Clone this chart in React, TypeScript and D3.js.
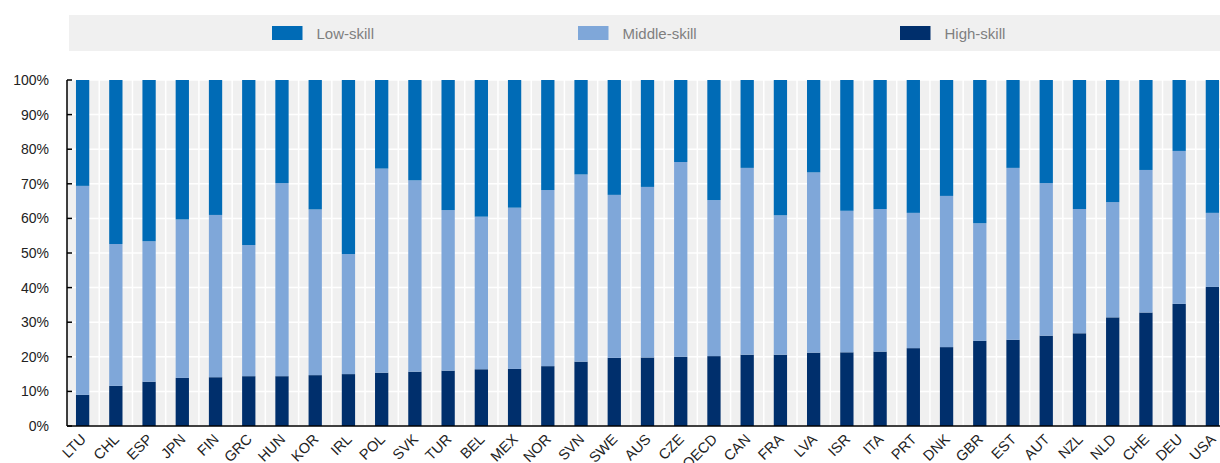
import React from "react";
import * as d3 from "d3";

const countries = ["LTU","CHL","ESP","JPN","FIN","GRC","HUN","KOR","IRL","POL","SVK","TUR","BEL","MEX","NOR","SVN","SWE","AUS","CZE","OECD","CAN","FRA","LVA","ISR","ITA","PRT","DNK","GBR","EST","AUT","NZL","NLD","CHE","DEU","USA"];
const highSkill = [9.0,11.6,12.8,13.9,14.1,14.4,14.4,14.7,15.0,15.4,15.7,16.0,16.4,16.5,17.3,18.6,19.7,19.8,20.0,20.2,20.6,20.6,21.2,21.3,21.5,22.5,22.8,24.6,24.9,26.1,26.8,31.4,32.8,35.3,40.2];
const highPlusMiddle = [69.4,52.6,53.4,59.7,61.0,52.3,70.2,62.6,49.7,74.4,71.0,62.4,60.5,63.1,68.2,72.7,66.8,69.1,76.3,65.3,74.6,60.9,73.3,62.2,62.7,61.6,66.5,58.6,74.6,70.2,62.7,64.7,74.0,79.5,61.6];
const middleSkill = highPlusMiddle.map((v, i) => +(v - highSkill[i]).toFixed(1));
const lowSkill = highPlusMiddle.map((v) => +(100 - v).toFixed(1));
const seriesNames = ["Low-skill", "Middle-skill", "High-skill"];
const seriesColors = ["#006bb6", "#7fa7d9", "#002f6c"];
const yTicks = [0,10,20,30,40,50,60,70,80,90,100];

const W = 1220, H = 463;
const PL = 67, PT = 80, PB = 426, PR = 1228;
const legendX = [272, 578, 900];

export default function App() {
  const rows = countries.map((c, i) => ({ country: c, high: highSkill[i], middle: middleSkill[i], low: lowSkill[i] }));
  const stack = d3.stack<any>().keys(["high", "middle", "low"])(rows);
  const colorByKey: Record<string, string> = { high: seriesColors[2], middle: seriesColors[1], low: seriesColors[0] };
  const x = d3.scaleBand().domain(countries).range([PL, PR]).paddingInner(0.6).paddingOuter(0.27);
  const y = d3.scaleLinear().domain([0, 100]).range([PB, PT]);
  const bw = x.bandwidth();
  const step = x.step();
  const font = "Arial, 'Liberation Sans', sans-serif";

  return (
    <div style={{ position: "absolute", left: 0, top: 0 }}>
      <svg width={W} height={H} style={{ display: "block" }}>
        <rect x={0} y={0} width={W} height={H} fill="#ffffff" />
        {/* legend */}
        <rect x={69} y={15} width={W - 69} height={36} fill="#f0f0f0" />
        {seriesNames.map((n, i) => (
          <g key={n}>
            <rect x={legendX[i]} y={26} width={30.5} height={14} fill={seriesColors[i]} />
            <text x={legendX[i] + 44.5} y={38.5} fontFamily={font} fontSize={15} fill="#7f7f7f">{n}</text>
          </g>
        ))}
        {/* plot bg */}
        <rect x={PL} y={PT} width={W - PL} height={PB - PT} fill="#f0f0f0" />
        {yTicks.map((t) => (
          <line key={"h" + t} x1={PL} x2={W} y1={y(t)} y2={y(t)} stroke="#ffffff" strokeWidth={1.5} />
        ))}
        {countries.map((c) => {
          const gx = (x(c) as number) + bw / 2 + step / 2;
          return <line key={"v" + c} x1={gx} x2={gx} y1={PT} y2={PB} stroke="#ffffff" strokeWidth={1.5} />;
        })}
        {/* bars */}
        {stack.map((s) => (
          <g key={s.key} fill={colorByKey[s.key]}>
            {s.map((d: any) => (
              <rect key={d.data.country} x={x(d.data.country)} y={y(d[1])} width={bw} height={y(d[0]) - y(d[1])} />
            ))}
          </g>
        ))}
        {/* axes */}
        <line x1={PL} x2={W} y1={PB} y2={PB} stroke="#000" strokeWidth={1.5} />
        <line x1={PL} x2={PL} y1={PT} y2={PB} stroke="#000" strokeWidth={1.5} />
        {yTicks.map((t) => (
          <g key={"t" + t}>
            <line x1={PL} x2={PL + 5} y1={y(t)} y2={y(t)} stroke="#000" strokeWidth={1.5} />
            <text x={49} y={y(t)} dy="0.35em" textAnchor="end" fontFamily={font} fontSize={14} fill="#222">{t + "%"}</text>
          </g>
        ))}
        {countries.map((c) => {
          const cx = (x(c) as number) + bw / 2;
          return (
            <text key={"x" + c} transform={`translate(${cx - 3},${PB + 7}) rotate(-45)`} textAnchor="end" dy="0.7em" fontFamily={font} fontSize={14.5} fill="#222">{c}</text>
          );
        })}
      </svg>
    </div>
  );
}
